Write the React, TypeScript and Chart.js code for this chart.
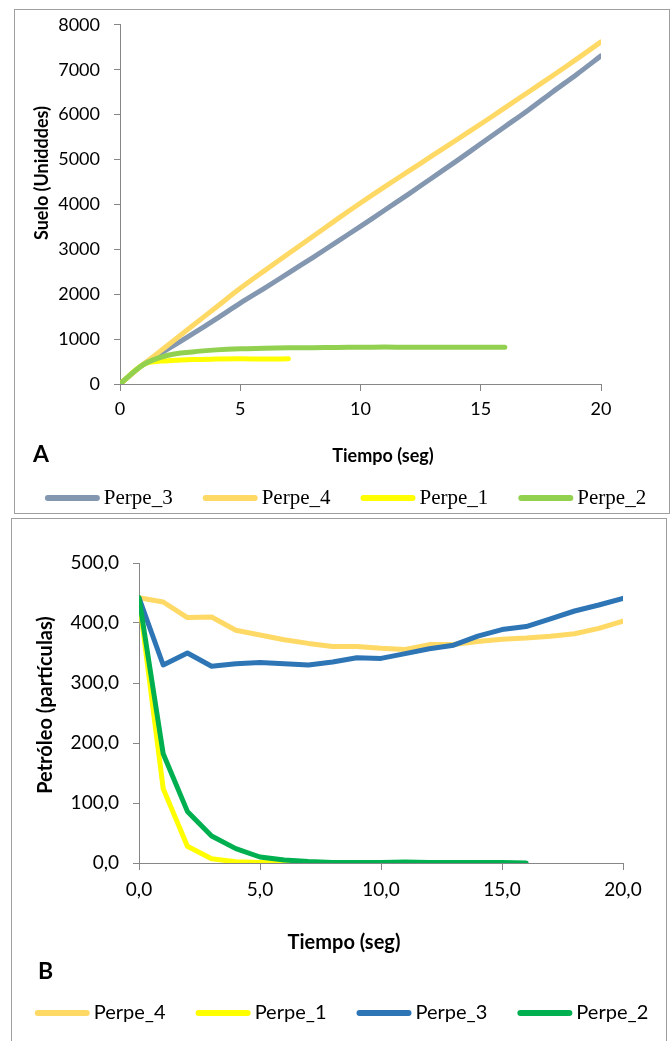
import React, { useEffect, useRef } from "react";
import { Chart, registerables } from "chart.js";

Chart.register(...registerables);

// ---------- DATA : chart A (Suelo) ----------
const secondsA = [0, 1, 2, 3, 4, 5, 6, 7, 8, 9, 10, 11, 12, 13, 14, 15, 16, 17, 18, 19, 20];
const sueloPerpe3 = [0, 450, 780, 1110, 1450, 1800, 2130, 2470, 2810, 3160, 3510, 3870, 4230, 4600, 4970, 5350, 5730, 6110, 6510, 6900, 7310];
const sueloPerpe4 = [0, 450, 870, 1290, 1710, 2130, 2520, 2900, 3280, 3660, 4030, 4390, 4740, 5090, 5440, 5790, 6150, 6510, 6870, 7240, 7620];
const sueloPerpe1 = [0, 440, 520, 545, 555, 560, 555, 560];
const sueloPerpe2 = [0, 440, 640, 715, 760, 785, 795, 805, 810, 815, 818, 822, 820, 820, 820, 820, 820];
const labelsA = ["Perpe_3", "Perpe_4", "Perpe_1", "Perpe_2"];
const colorsA = ["#8497B0", "#FFD966", "#FFFF00", "#92D050"];
const yTicksA = { min: 0, max: 8000, step: 1000 };
const xTicksA = { min: 0, max: 20, step: 5 };

// ---------- DATA : chart B (Petróleo) ----------
const secondsB = [0, 1, 2, 3, 4, 5, 6, 7, 8, 9, 10, 11, 12, 13, 14, 15, 16, 17, 18, 19, 20];
const petroleoPerpe4 = [442, 435, 409, 410, 388, 380, 372, 366, 361, 361, 358, 356, 364, 364, 369, 373, 375, 378, 382, 391, 403];
const petroleoPerpe1 = [442, 124, 28, 7, 2, 1, 0.5, 0];
const petroleoPerpe3 = [442, 330, 350, 328, 332, 334, 332, 330, 335, 342, 341, 349, 357, 363, 378, 389, 394, 407, 420, 430, 441];
const petroleoPerpe2 = [442, 182, 86, 45, 24, 10, 5, 2.5, 1, 1, 1, 1.5, 1, 1, 1, 1, 0];
const labelsB = ["Perpe_4", "Perpe_1", "Perpe_3", "Perpe_2"];
const colorsB = ["#FFD966", "#FFFF00", "#2E75B6", "#00B050"];
const yTicksB = { min: 0, max: 500, step: 100 };
const xTicksB = { min: 0, max: 20, step: 5 };

const pts = (xs: number[], ys: number[]) => ys.map((y, i) => ({ x: xs[i], y }));
const comma = (v: any) => Number(v).toFixed(1).replace(".", ",");

const AXIS = "#868686";
const SANS = "Lato, 'Open Sans', sans-serif";

const overlayPlugin = {
  id: "overlay",
  afterDraw(chart: any, _args: any, o: any) {
    const ctx = chart.ctx;
    ctx.save();
    ctx.fillStyle = "#000";
    // panel letter
    ctx.font = o.letterFont;
    ctx.textAlign = "left";
    ctx.textBaseline = "alphabetic";
    ctx.fillText(o.letter, o.letterX, o.letterY);
    // x title
    ctx.font = o.xTitleFont;
    ctx.textAlign = "center";
    ctx.fillText(o.xTitle, o.xTitleX, o.xTitleY);
    // y title
    ctx.save();
    ctx.font = o.yTitleFont;
    ctx.translate(o.yTitleX, o.yTitleY);
    ctx.rotate(-Math.PI / 2);
    ctx.textAlign = "center";
    ctx.textBaseline = "middle";
    ctx.fillText(o.yTitle, 0, 0);
    ctx.restore();
    // legend
    ctx.font = o.legendFont;
    ctx.textAlign = "left";
    ctx.textBaseline = "middle";
    const ds = chart.data.datasets;
    const widths = ds.map((d: any) => o.lineLen + o.textGap + ctx.measureText(d.label).width);
    const total = widths.reduce((a: number, b: number) => a + b, 0) + o.itemGap * (ds.length - 1);
    let x = o.legendCenterX - total / 2;
    ds.forEach((d: any, i: number) => {
      ctx.strokeStyle = d.borderColor;
      ctx.lineWidth = 6;
      ctx.lineCap = "round";
      ctx.beginPath();
      ctx.moveTo(x + 3, o.legendY);
      ctx.lineTo(x + o.lineLen - 3, o.legendY);
      ctx.stroke();
      ctx.fillStyle = "#000";
      ctx.fillText(d.label, x + o.lineLen + o.textGap, o.legendY + o.legendTextDy);
      x += widths[i] + o.itemGap;
    });
    ctx.restore();
  },
};

function makeConfig(p: any) {
  return {
    type: "line",
    data: {
      datasets: p.series.map((s: number[], i: number) => ({
        label: p.labels[i],
        data: pts(p.xs, s),
        borderColor: p.colors[i],
        backgroundColor: p.colors[i],
        borderWidth: 5,
        pointRadius: 0,
        tension: p.tension,
        borderCapStyle: "round",
        borderJoinStyle: "round",
        fill: false,
        order: p.series.length - 1 - i,
      })),
    },
    options: {
      responsive: false,
      animation: false,
      events: [],
      layout: { padding: { left: 0, top: p.padTop, right: p.padRight, bottom: 0 } },
      plugins: {
        legend: { display: false },
        tooltip: { enabled: false },
        overlay: p.overlay,
      },
      scales: {
        x: {
          type: "linear",
          min: p.xt.min,
          max: p.xt.max,
          ticks: {
            stepSize: p.xt.step,
            font: { family: SANS, size: p.tickSize },
            color: "#000",
            padding: p.xPad,
            maxRotation: 0,
            callback: p.fmt,
          },
          grid: { drawOnChartArea: false, drawTicks: true, tickLength: 7, color: AXIS },
          border: { color: AXIS, width: 1 },
          afterFit: (s: any) => { s.height = p.xHeight; },
        },
        y: {
          type: "linear",
          min: p.yt.min,
          max: p.yt.max,
          ticks: {
            stepSize: p.yt.step,
            font: { family: SANS, size: p.tickSize },
            color: "#000",
            padding: 14,
            callback: p.fmt,
          },
          grid: { drawOnChartArea: false, drawTicks: true, tickLength: 6, color: AXIS },
          border: { color: AXIS, width: 1 },
          afterFit: (s: any) => { s.width = p.yWidth; },
        },
      },
    },
    plugins: [overlayPlugin],
  };
}

function ChartCanvas({ cfg, w, h, top }: any) {
  const ref = useRef<HTMLCanvasElement>(null);
  useEffect(() => {
    const c = new Chart(ref.current as any, cfg() as any);
    return () => c.destroy();
  }, []);
  return (
    <canvas
      ref={ref}
      width={w}
      height={h}
      style={{ position: "absolute", left: 0, top, width: w, height: h }}
    />
  );
}

const cfgA = () =>
  makeConfig({
    xs: secondsA,
    series: [sueloPerpe3, sueloPerpe4, sueloPerpe1, sueloPerpe2],
    labels: labelsA,
    colors: colorsA,
    tension: 0.35,
    xt: xTicksA,
    yt: yTicksA,
    fmt: (v: any) => String(v),
    tickSize: 18,
    padTop: 23,
    padRight: 70,
    yWidth: 120,
    xHeight: 131,
    xPad: 7,
    overlay: {
      letter: "A",
      letterFont: `bold 23px ${SANS}`,
      letterX: 33,
      letterY: 462,
      xTitle: "Tiempo (seg)",
      xTitleFont: `bold 18px ${SANS}`,
      xTitleX: 383,
      xTitleY: 462,
      yTitle: "Suelo (Unidddes)",
      yTitleFont: `bold 18px ${SANS}`,
      yTitleX: 42,
      yTitleY: 173,
      legendFont: "21px 'Liberation Serif', 'Times New Roman', serif",
      legendCenterX: 345.5,
      legendY: 498,
      legendTextDy: 0,
      lineLen: 55,
      textGap: 4,
      itemGap: 30,
    },
  });

const cfgB = () =>
  makeConfig({
    xs: secondsB,
    series: [petroleoPerpe4, petroleoPerpe1, petroleoPerpe3, petroleoPerpe2],
    labels: labelsB,
    colors: colorsB,
    tension: 0,
    xt: xTicksB,
    yt: yTicksB,
    fmt: comma,
    tickSize: 19,
    padTop: 48,
    padRight: 48,
    yWidth: 139,
    xHeight: 178,
    xPad: 8,
    overlay: {
      letter: "B",
      letterFont: `bold 23px ${SANS}`,
      letterX: 38,
      letterY: 464,
      xTitle: "Tiempo (seg)",
      xTitleFont: `bold 20px ${SANS}`,
      xTitleX: 344,
      xTitleY: 434,
      yTitle: "Petróleo (partículas)",
      yTitleFont: `bold 20px ${SANS}`,
      yTitleX: 46,
      yTitleY: 190,
      legendFont: `20px ${SANS}`,
      legendCenterX: 341.5,
      legendY: 498,
      legendTextDy: 0,
      lineLen: 55,
      textGap: 4,
      itemGap: 30,
    },
  });

export default function App() {
  return (
    <div
      style={{
        position: "absolute",
        left: 0,
        top: 0,
        width: 671,
        height: 1041,
        overflow: "hidden",
        background: "#fff",
      }}
    >
      <div
        style={{
          position: "absolute",
          left: 14,
          top: 9,
          width: 656,
          height: 505,
          boxSizing: "border-box",
          border: "1px solid #9E9E9E",
        }}
      />
      <div
        style={{
          position: "absolute",
          left: 11,
          top: 518,
          width: 656,
          height: 600,
          boxSizing: "border-box",
          border: "1px solid #9E9E9E",
        }}
      />
      <ChartCanvas cfg={cfgA} w={671} h={515} top={0} />
      <ChartCanvas cfg={cfgB} w={671} h={526} top={515} />
    </div>
  );
}
